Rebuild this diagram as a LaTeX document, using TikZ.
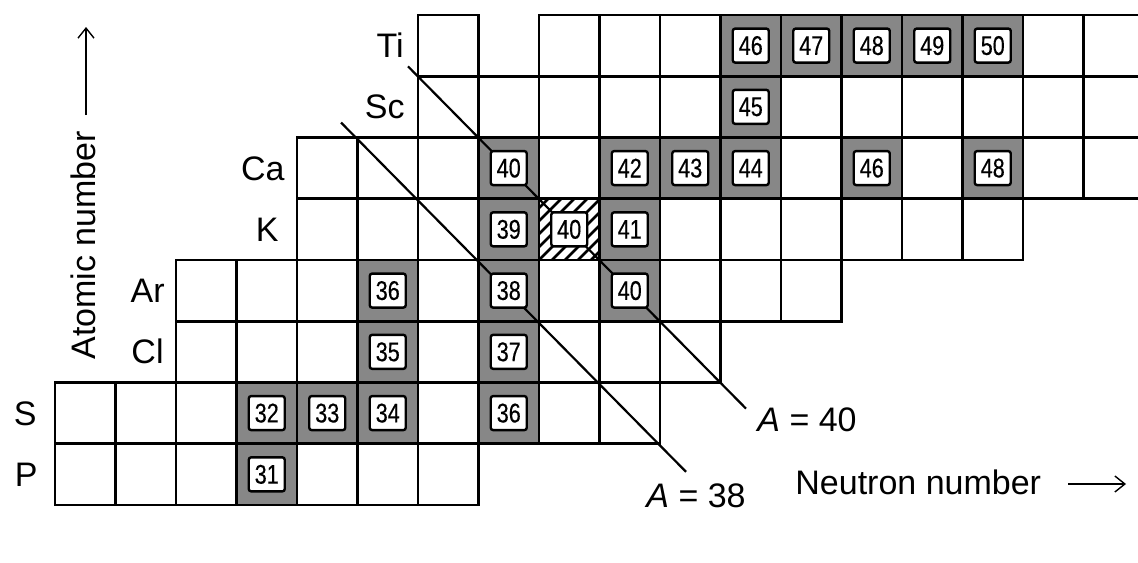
\documentclass[tikz,border=0pt]{standalone}
\usepackage{fontspec}
\setmainfont{Liberation Sans}
\newfontfamily\numfont[FakeStretch=0.8,FakeBold=0.4]{Liberation Sans}
\usetikzlibrary{arrows.meta}
\newcommand\cellR[2]{({55+60.5*(#1)},{15+61.25*(#2)}) rectangle ({55+60.5*(#1)+60.5},{15+61.25*(#2)+61.25})}
\begin{document}
\begin{tikzpicture}[x=0.5pt,y=-0.5pt,
  gridline/.style={line width=1.35pt},
  stab/.style={fill=black!47},
  hatch/.style={line width=1.4pt},
  iso/.style={line width=1.1pt},
  nbox/.style={draw, line width=1.2pt, fill=white, rounded corners=1.2pt,
    minimum width=18pt, minimum height=17pt, inner sep=0pt,
    font=\numfont\fontsize{13.5}{13.5}\selectfont},
  txt/.style={inner sep=0pt, font=\fontsize{17}{20}\selectfont},
  lab/.style={txt, anchor=base east},
  axarrow/.style={line width=0.7pt, -{Straight Barb[length=5pt,width=8pt,line width=0.7pt]}}]
\useasboundingbox (0,0) rectangle (1138,562);
\begin{scope}
\clip (0,0) rectangle (1138,562);
% stable nuclides (shaded)
\foreach \c/\r in {11/0,12/0,13/0,14/0,15/0,11/1,7/2,9/2,10/2,11/2,13/2,15/2,7/3,9/3,5/4,7/4,9/4,5/5,7/5,3/6,4/6,5/6,7/6,3/7}
  \fill[stab] \cellR{\c}{\r};
% hatched cell (40K)
\begin{scope}
\clip \cellR{8}{3};
\foreach \d in {-65,-52,...,65}
  \draw[hatch] ({55+60.5*8+\d},{15+61.25*4}) -- ++(61.25,-61.25);
\end{scope}
% grid
\foreach \r/\a/\b in {1/6/17,2/4/17,3/4/15,4/2/12,5/2/10,6/0/9,7/0/6}
  \foreach \c in {\a,...,\b} \draw[gridline] \cellR{\c}{\r};
\draw[gridline] \cellR{6}{0};
\foreach \c in {8,...,17} \draw[gridline] \cellR{\c}{0};
% isobars
\coordinate (a38s) at (341,122.5);
\coordinate (a38e) at (686,471.8);
\coordinate (a40s) at (408,66.4);
\coordinate (a40e) at (746,408.6);
\draw[iso] (a38s) -- (a38e);
\draw[iso] (a40s) -- (a40e);
\end{scope}
% number boxes
\foreach \c/\r/\n in {11/0/46,12/0/47,13/0/48,14/0/49,15/0/50,11/1/45,
  7/2/40,9/2/42,10/2/43,11/2/44,13/2/46,15/2/48,7/3/39,8/3/40,9/3/41,
  5/4/36,7/4/38,9/4/40,5/5/35,7/5/37,3/6/32,4/6/33,5/6/34,7/6/36,3/7/31}
  \node[nbox] (b\c-\r) at ({55+60.5*\c+30.25},{15+61.25*\r+30.6}) {\n};
% element labels
\node[lab] (Ti) at (404,57.4) {Ti};
\node[lab] (Sc) at (405,118.7) {Sc};
\node[lab] (Ca) at (285,180) {Ca};
\node[lab] (K) at (279,241.2) {K};
\node[lab] (Ar) at (165,302.5) {Ar};
\node[lab] (Cl) at (164,363.7) {Cl};
\node[lab] (S) at (37,425) {S};
\node[lab] (P) at (38,486.2) {P};
% isobar labels
\node[txt, anchor=base west] (A40) at (757,431) {\textit{A} = 40};
\node[txt, anchor=base west] (A38) at (646,507) {\textit{A} = 38};
% axis labels
\node[txt, anchor=base west] (nn) at (795,494) {Neutron number};
\coordinate (na1) at (1068,484);
\coordinate (na2) at (1126,484);
\draw[axarrow] (na1) -- (na2);
\node[txt, rotate=90, anchor=base west] (an) at (95,360) {Atomic number};
\coordinate (za1) at (86,115);
\coordinate (za2) at (86,27);
\draw[axarrow] (za1) -- (za2);
\end{tikzpicture}
\end{document}
